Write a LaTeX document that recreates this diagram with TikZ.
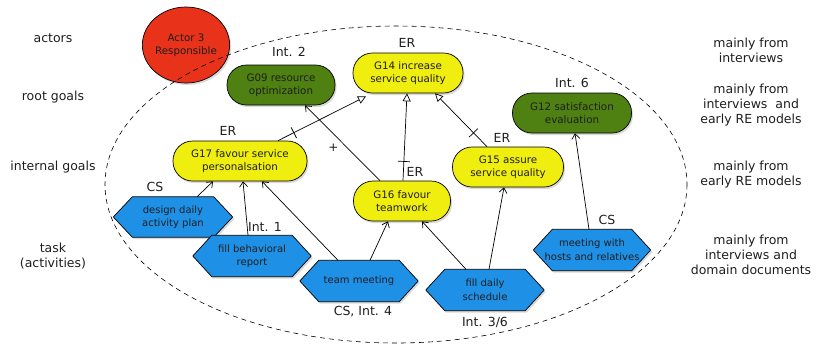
\documentclass[tikz,border=0pt]{standalone}
\usepackage{fontspec}
\setmainfont{DejaVu Sans}
\usetikzlibrary{arrows.meta,shadows,decorations.markings,shapes.geometric}
\pgfdeclarelayer{background}
\pgfsetlayers{background,main}
\definecolor{goalyellow}{RGB}{240,238,15}
\definecolor{goalgreen}{RGB}{78,128,18}
\definecolor{taskblue}{RGB}{30,144,230}
\definecolor{actorred}{RGB}{232,50,25}
\definecolor{txt}{RGB}{30,30,30}
\tikzset{
  shad/.style={drop shadow={shadow xshift=1.5pt, shadow yshift=-2pt, opacity=0.3}},
  goal/.style={draw=black, line width=0.7pt, rounded corners=19.5pt, minimum height=40pt,
    align=center, font=\fontsize{10.3}{13.5}\selectfont, text=txt, inner sep=2pt, shad},
  rootgoal/.style={goal, fill=goalgreen},
  intgoal/.style={goal, fill=goalyellow},
  taskbox/.style={minimum height=41pt, minimum width=118pt, align=center, inner sep=0pt,
    font=\fontsize{10}{13.5}\selectfont, text=txt},
  hexshape/.style={draw=black, line width=0.7pt, fill=taskblue, shad},
  lbl/.style={font=\fontsize{12.5}{15}\selectfont, align=center, text=txt, inner sep=0pt},
  contrib/.style={-{Straight Barb[length=5pt,width=8pt]}, line width=0.7pt},
  meansend/.style={-{Triangle[open,length=8pt,width=8pt]}, line width=0.7pt},
  tick/.style={postaction={decorate, decoration={markings,
      mark=at position #1 with {\draw[-, line width=0.7pt] (0,-6pt) -- (0,6pt);}}}},
}
\begin{document}
\begin{tikzpicture}[x=1pt,y=-1pt]
\useasboundingbox (0,0) rectangle (817,349);

% side labels
\node[lbl] (lact) at (53,38) {actors};
\node[lbl] (lroot) at (53,97) {root goals};
\node[lbl] (lint) at (53,167) {internal goals};
\node[lbl] (ltask) at (53,256) {task\\(activities)};
\node[lbl] (ract) at (751,50) {mainly from\\interviews};
\node[lbl] (rroot) at (751,105) {mainly from\\interviews\ \ and\\early RE models};
\node[lbl] (rint) at (751,175) {mainly from\\early RE models};
\node[lbl] (rtask) at (751,255) {mainly from\\interviews and\\domain documents};

% actor and boundary
\begin{pgfonlayer}{background}
\node[ellipse, draw=black, line width=0.7pt, fill=actorred, minimum width=82pt, minimum height=76pt, inner sep=0pt,
  align=center, font=\fontsize{10.3}{13.5}\selectfont, text=txt, shad] (actor) at (186,45) {Actor 3\\Responsible};
\draw[dashed, dash pattern=on 5pt off 4pt, line width=0.6pt] (396,184.5) ellipse [x radius=291, y radius=158.5];
\end{pgfonlayer}

% goals
\node[rootgoal, minimum width=108pt] (g09) at (281,85) {G09 resource\\optimization};
\node[intgoal, minimum width=110pt] (g14) at (408,73) {G14 increase\\service quality};
\node[rootgoal, minimum width=119pt] (g12) at (572,113) {G12 satisfaction\\evaluation};
\node[intgoal, minimum width=111pt] (g15) at (508,167) {G15 assure\\service quality};
\node[intgoal, minimum width=134pt] (g17) at (240,161) {G17 favour service\\personalsation};
\node[intgoal, minimum width=97pt] (g16) at (402,201) {G16 favour\\teamwork};

% tasks
\node[taskbox, minimum width=119pt, minimum height=40pt] (design) at (173,217) {design daily\\activity plan};
\node[taskbox] (behav) at (252,256) {fill behavioral\\report};
\node[taskbox] (team) at (359,281) {team meeting};
\node[taskbox] (daily) at (485,290) {fill daily\\schedule};
\node[taskbox, minimum width=117pt] (hosts) at (592,250) {meeting with\\hosts and relatives};

\begin{pgfonlayer}{background}
\foreach \n in {design,behav,team,daily,hosts}{
  \draw[hexshape] (\n.west) -- ([xshift=19pt]\n.north west) -- ([xshift=-19pt]\n.north east)
    -- (\n.east) -- ([xshift=-19pt]\n.south east) -- ([xshift=19pt]\n.south west) -- cycle;
}
\end{pgfonlayer}

% annotations
\node[lbl] (a09) at (289,52) {Int. 2};
\node[lbl] (a14) at (407,43) {ER};
\node[lbl] (a12) at (572,83) {Int. 6};
\node[lbl] (a15) at (502,138) {ER};
\node[lbl] (a17) at (228,131) {ER};
\node[lbl] (a16) at (415,172) {ER};
\node[lbl] (adesign) at (155,187) {CS};
\node[lbl] (abehav) at (265,227) {Int. 1};
\node[lbl] (ateam) at (363,312) {CS, Int. 4};
\node[lbl] (adaily) at (485,322) {Int. 3/6};
\node[lbl] (ahosts) at (607,220) {CS};

% means-end links
\draw[meansend, tick=0.18] ([xshift=38pt]g17.north) -- ([xshift=-42pt,yshift=-3pt]g14.south);
\draw[meansend, tick=0.22] ([xshift=1pt]g16.north) -- ([xshift=-1pt]g14.south);
\draw[meansend, tick=0.26] ([xshift=-21pt]g15.north) -- ([xshift=27pt]g14.south);

% contributions
\draw[contrib] ([xshift=-22pt]g16.north) -- node[pos=0.62, yshift=-14pt, font=\fontsize{12}{14}\selectfont, text=txt] {+} ([xshift=24pt]g09.south);
\draw[contrib] ([xshift=24pt]design.north) -- ([xshift=-27pt]g17.south);
\draw[contrib] ([xshift=-4pt]behav.north) -- ([xshift=3pt]g17.south);
\draw[contrib] ([xshift=-21pt]team.north) -- ([xshift=22pt]g17.south);
\draw[contrib] ([xshift=11pt]team.north) -- ([xshift=-14pt]g16.south);
\draw[contrib] ([xshift=-19pt]daily.north) -- ([xshift=20pt]g16.south);
\draw[contrib] ([xshift=4pt]daily.north) -- ([xshift=-4pt]g15.south);
\draw[contrib] ([xshift=-3pt]hosts.north) -- ([xshift=3pt]g12.south);
\end{tikzpicture}
\end{document}
